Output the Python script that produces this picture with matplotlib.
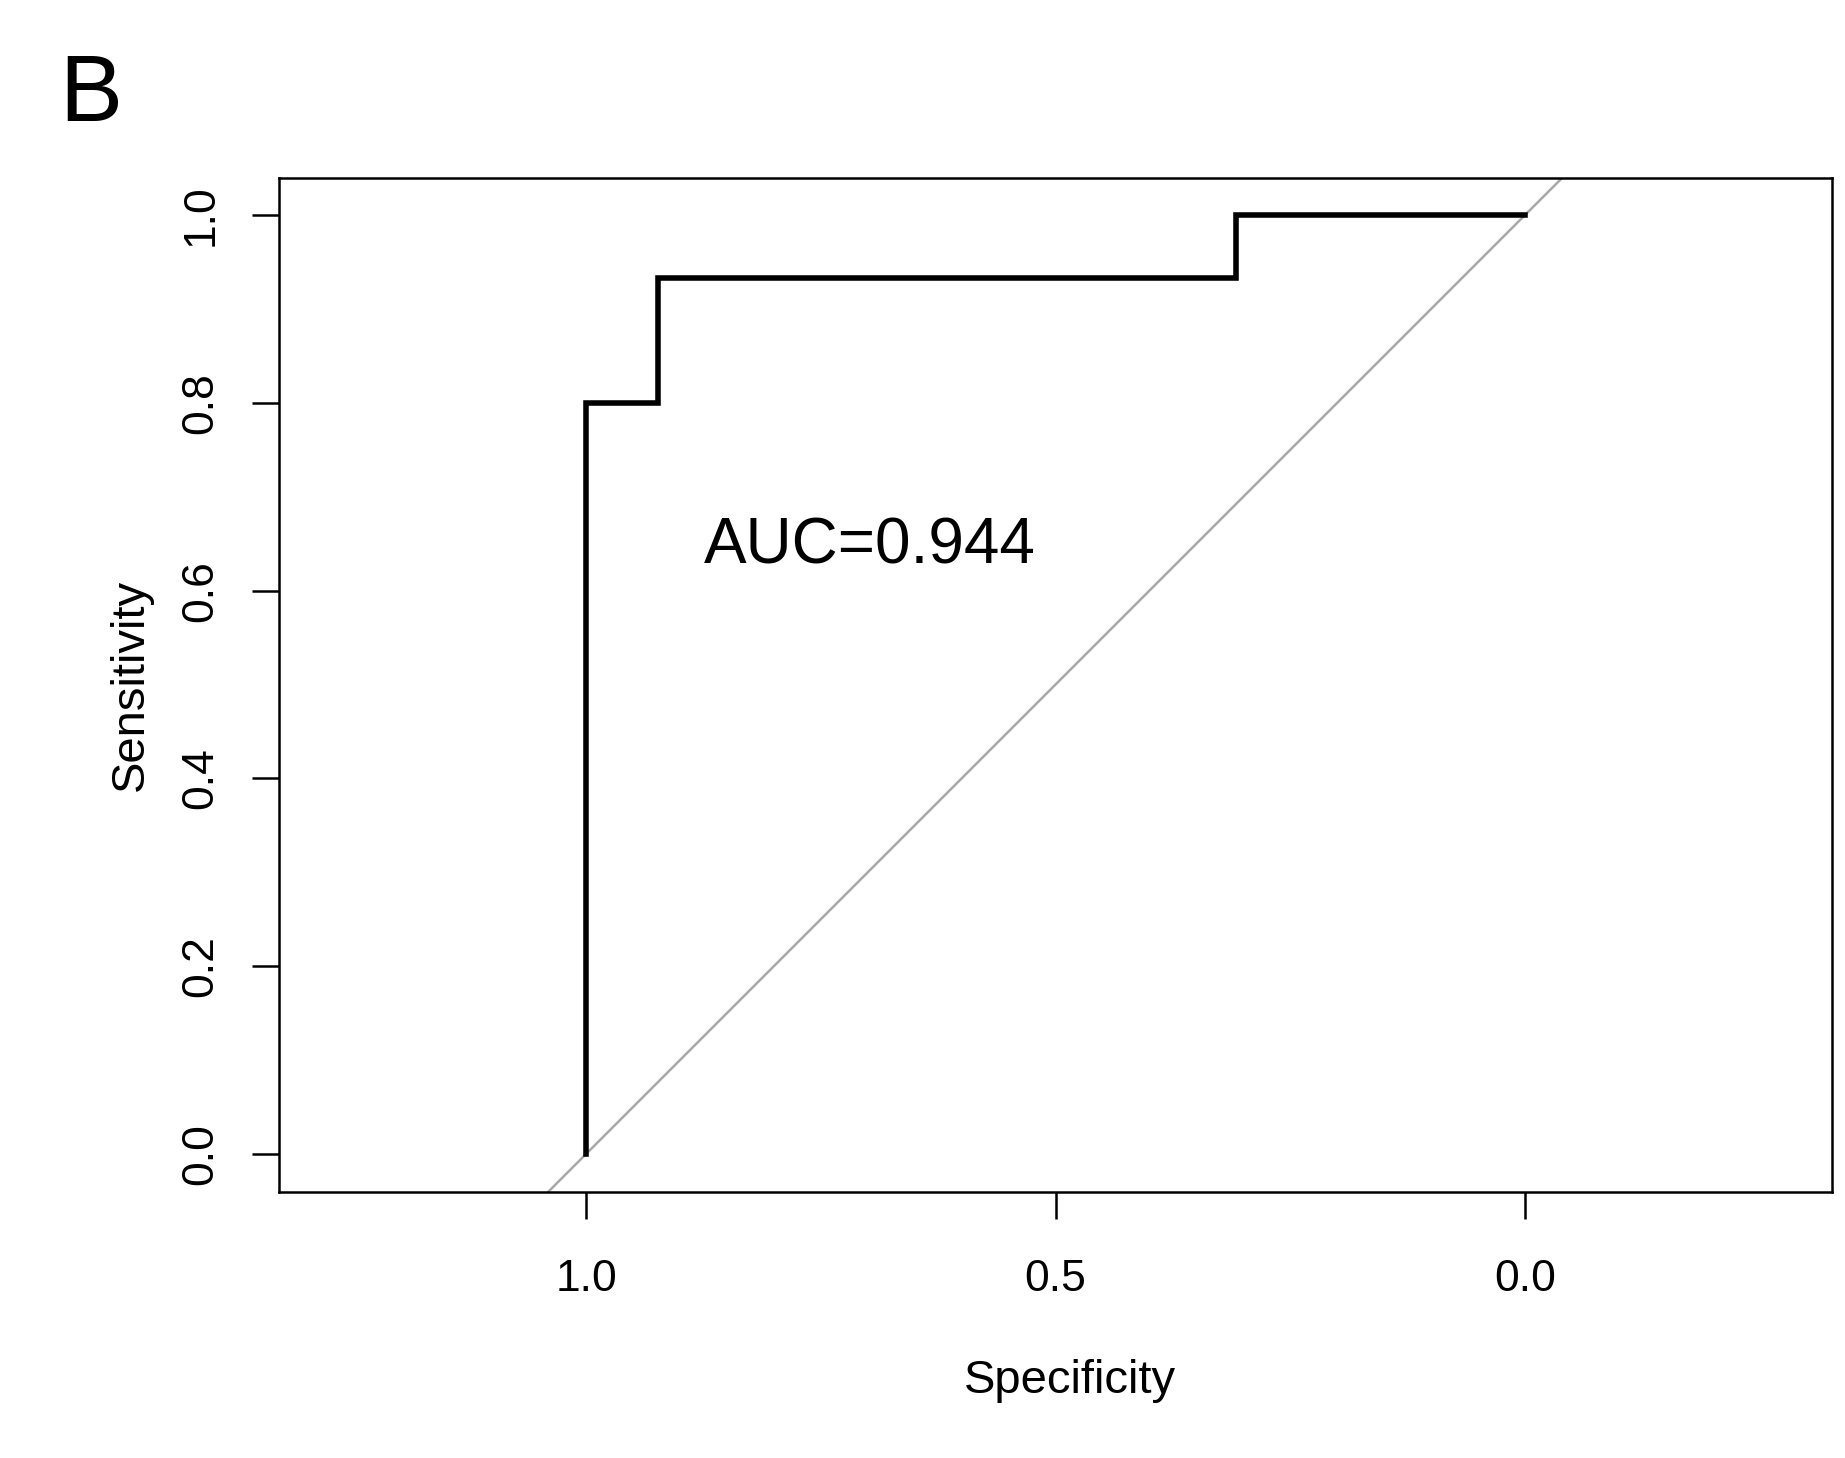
import matplotlib
matplotlib.use("Agg")
import matplotlib.pyplot as plt
import numpy as np

# ROC points (specificity, sensitivity)
specificity = np.array([1.0, 1.0, 0.9231, 0.3077, 0.0])
sensitivity = np.array([0.0, 0.8, 0.9333, 1.0, 1.0])
x_ticks = [1.0, 0.5, 0.0]
y_ticks = [0.0, 0.2, 0.4, 0.6, 0.8, 1.0]

plt.rcParams['font.family'] = ['Liberation Sans', 'DejaVu Sans']

# area under the step curve
step_x = np.repeat(specificity, 2)[1:]
step_y = np.repeat(sensitivity, 2)[:-1]
auc = -np.trapezoid(step_y, step_x)

fig = plt.figure(figsize=(18.45, 14.58), dpi=100)
ax = fig.add_axes([0.1512, 0.1824, 0.8418, 0.6955])

ax.axline((1.0, 0.0), (0.0, 1.0), color='#a8a8a8', lw=1.8, zorder=1)
ax.plot(specificity, sensitivity, drawstyle='steps-post', color='black',
        lw=4.0, solid_joinstyle='miter', zorder=2)

ax.set_xlim(1.327, -0.327)
ax.set_ylim(-0.0405, 1.0394)

ax.set_xticks(x_ticks)
ax.set_xticklabels(['%.1f' % v for v in x_ticks])
ax.set_yticks(y_ticks)
ax.set_yticklabels(['%.1f' % v for v in y_ticks], rotation=90, va='center')
ax.tick_params(axis='both', direction='out', length=19.5, width=1.8,
               labelsize=32, color='black')
ax.tick_params(axis='x', pad=29)
ax.tick_params(axis='y', pad=22)
for s in ax.spines.values():
    s.set_linewidth(1.8)

ax.set_xlabel('Specificity', fontsize=34, labelpad=46)
ax.xaxis.set_label_coords(0.509, -0.165)
ax.set_ylabel('Sensitivity', fontsize=34, labelpad=20)

ax.text(0.875, 0.647, 'AUC=%.3f' % auc, fontsize=46, ha='left', va='center')

fig.text(0.032, 0.917, 'B', fontsize=68, ha='left', va='baseline')

fig.savefig('out.png', dpi=100)
